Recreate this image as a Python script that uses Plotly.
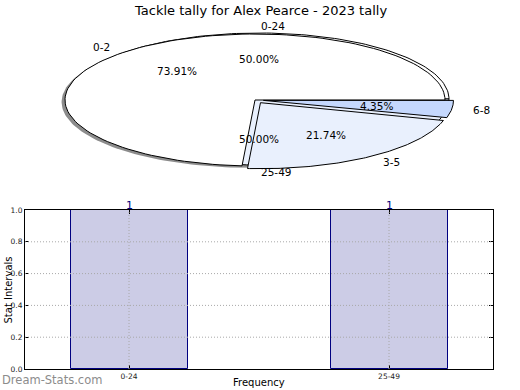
import numpy as np
import plotly.graph_objects as go

title_text = "Tackle tally for Alex Pearce - 2023 tally"

outer_labels = ["0-2", "3-5", "6-8"]
outer_counts = [17, 5, 1]
outer_colors = ["#ffffff", "#e9f0fd", "#c5d8fd"]
outer_explode = [0.0, 0.05, 0.045]

inner_labels = ["0-24", "25-49"]
inner_counts = [1, 1]
inner_colors = ["#ffffff", "#e9f0fd"]
inner_explode = [0.0, 0.0]

bar_cats = ["0-24", "25-49"]
bar_vals = [1, 1]
y_ticks = [0.0, 0.2, 0.4, 0.6, 0.8, 1.0]

W, H = 520, 390
RX, RY = 190.0, 66.0          # pie radii in pixels
CX, CY = 255.0, 100.0         # pie centre in pixels (from top-left)

fig = go.Figure()
annotations = []
shapes = []

PIE_AX = dict(xaxis="x2", yaxis="y2")
FONT = "DejaVu Sans, Verdana, sans-serif"


def add_pie(labels, counts, colors, explode, ox, oy):
    total = float(sum(counts))
    start = 0.0
    for lab, cnt, col, ex in zip(labels, counts, colors, explode):
        frac = cnt / total
        a0, a1 = start * 360.0, (start + frac) * 360.0
        mid = np.radians((a0 + a1) / 2.0)
        dx, dy = ex * np.cos(mid), ex * np.sin(mid)
        t = np.radians(np.linspace(a0, a1, 120))
        cx, cy = ox + dx, oy + dy
        xs = np.concatenate([[cx], cx + np.cos(t), [cx]])
        ys = np.concatenate([[cy], cy + np.sin(t), [cy]])
        fig.add_trace(go.Scatter(x=xs, y=ys, mode="lines", fill="toself",
                                 fillcolor=col, line=dict(color="black", width=1),
                                 hoverinfo="skip", showlegend=False, **PIE_AX))
        c, s = np.cos(mid), np.sin(mid)
        annotations.append(dict(x=cx + 1.1 * c, y=cy + 1.1 * s, xref="x2", yref="y2",
                                text=lab, showarrow=False,
                                xanchor="right" if c < -1e-9 else "left",
                                yanchor="middle",
                                font=dict(size=10.5, color="black", family=FONT)))
        annotations.append(dict(x=cx + 0.6 * c, y=cy + 0.6 * s, xref="x2", yref="y2",
                                text="%.2f%%" % (frac * 100), showarrow=False,
                                xanchor="center", yanchor="middle",
                                font=dict(size=10.5, color="black", family=FONT)))
        start += frac


# shadow
ts = np.radians(np.linspace(0, 360, 240))
fig.add_trace(go.Scatter(x=-0.018 + np.cos(ts), y=-0.03 + np.sin(ts), mode="lines",
                         fill="toself", fillcolor="rgba(0,0,0,0.45)",
                         line=dict(color="rgba(0,0,0,0)", width=0),
                         hoverinfo="skip", showlegend=False, **PIE_AX))

add_pie(inner_labels, inner_counts, inner_colors, inner_explode, 4 / RX, 1 / RY)
add_pie(outer_labels, outer_counts, outer_colors, outer_explode, 0.0, 0.0)

# bar chart
bar_x = list(range(len(bar_cats)))
fig.add_trace(go.Bar(x=bar_x, y=bar_vals, width=0.45,
                     marker=dict(color="#cccce6", line=dict(color="#000080", width=1)),
                     hoverinfo="skip", showlegend=False, xaxis="x", yaxis="y"))
for i, v in zip(bar_x, bar_vals):
    annotations.append(dict(x=i, y=v, xref="x", yref="y", text=str(v), showarrow=False,
                            xanchor="center", yanchor="bottom", yshift=-4,
                            font=dict(size=11, color="#000080", family=FONT)))

# dotted grid drawn above the bars (as in the reference)
GRID = dict(color="#a8a8a8", width=1, dash="1px,2px")
for v in y_ticks[1:-1]:
    shapes.append(dict(type="line", xref="x domain", yref="y", x0=0, x1=1, y0=v, y1=v,
                       line=GRID, layer="above"))
for i in bar_x:
    shapes.append(dict(type="line", xref="x", yref="y domain", x0=i, x1=i, y0=0, y1=1,
                       line=GRID, layer="above"))

# texts
annotations.append(dict(x=0.5, y=1 - 10 / H, xref="paper", yref="paper", text=title_text,
                        showarrow=False, xanchor="center", yanchor="middle",
                        font=dict(size=13, color="black", family=FONT)))
annotations.append(dict(x=0, y=(H - 290) / H, xref="paper", yref="paper",
                        text="Stat Intervals", textangle=-90, showarrow=False,
                        xanchor="left", yanchor="middle",
                        font=dict(size=10, color="black", family=FONT)))
annotations.append(dict(x=259 / W, y=0, xref="paper", yref="paper",
                        text="Frequency", showarrow=False, xanchor="center",
                        yanchor="bottom", yshift=0,
                        font=dict(size=10, color="black", family=FONT)))
annotations.append(dict(x=0, y=(H - 380) / H, xref="paper", yref="paper",
                        text="Dream-Stats.com", showarrow=False, xanchor="left",
                        yanchor="middle",
                        font=dict(size=11.5, color="#8c8c8c", family=FONT)))

bx0, bx1 = 25 / W, 493 / W
by0, by1 = (H - 369) / H, (H - 210) / H

AXCOMMON = dict(showline=True, linecolor="black", linewidth=1, mirror="ticks",
                ticks="inside", ticklen=4, tickcolor="black", showgrid=False,
                zeroline=False, automargin=False, layer="above traces",
                tickfont=dict(size=7.5, color="#222", family=FONT))

fig.update_layout(
    template="none",
    width=W, height=H, margin=dict(l=0, r=0, t=0, b=0, pad=0),
    paper_bgcolor="white", plot_bgcolor="white",
    annotations=annotations, shapes=shapes,
    bargap=0,
    xaxis=dict(domain=[bx0, bx1], range=[-0.4, 1.4], tickmode="array",
               tickvals=bar_x, ticktext=bar_cats, anchor="y", **AXCOMMON),
    yaxis=dict(domain=[by0, by1], range=[0, 1], tickmode="array",
               tickvals=y_ticks, ticktext=["%.1f" % v for v in y_ticks],
               anchor="x", **AXCOMMON),
    xaxis2=dict(domain=[0, 1], range=[-CX / RX, (W - CX) / RX], visible=False,
                anchor="y2", automargin=False),
    yaxis2=dict(domain=[0.5, 1], range=[-(H / 2 - CY) / RY, CY / RY], visible=False,
                anchor="x2", automargin=False),
)

fig.write_html("out.html", config={"displayModeBar": False},
               post_script="document.body.style.margin='0';"
                           "document.body.style.overflow='hidden';")
